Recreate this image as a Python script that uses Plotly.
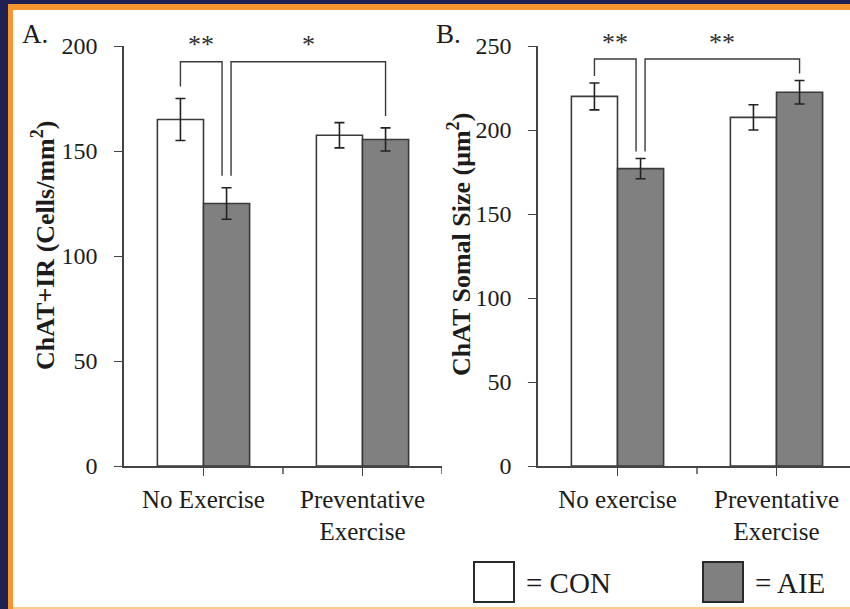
import plotly.graph_objects as go

W, H = 850, 609

# ---------------- data ----------------
cats_a = ["No Exercise", "Preventative<br>Exercise"]
con_a = [165, 157.5]
con_a_err = [10, 6]
aie_a = [125, 155.5]
aie_a_err = [7.5, 5.5]

cats_b = ["No exercise", "Preventative<br>Exercise"]
con_b = [220, 207.5]
con_b_err = [8, 7.5]
aie_b = [177, 222.5]
aie_b_err = [6, 7]

ticks_a = [0, 50, 100, 150, 200]
ticks_b = [0, 50, 100, 150, 200, 250]

sig_a = ["**", "*"]
sig_b = ["**", "**"]

# ---------------- style ----------------
NAVY = "#1f2153"
ORANGE = "#f7962f"
GRAY = "#808080"
EDGE = "#3a3a3a"
TXT = "#1c1c1c"
FONT = "Liberation Serif, Times New Roman, serif"


def px(x):
    return x / W


def py(y):
    return 1 - y / H


# panel geometry (pixels)
A_left, A_right, B_left = 124, 442, 538
Y_top, Y_bot = 46, 466
cat_px = (A_right - A_left) / 2.0
B_right_range = -0.5 + (W - B_left) / cat_px

fig = go.Figure()

err_style = dict(type="data", color="#222222", thickness=1.6, width=5, visible=True)

for cats, con, con_e, aie, aie_e, xa, ya in [
    (cats_a, con_a, con_a_err, aie_a, aie_a_err, "x", "y"),
    (cats_b, con_b, con_b_err, aie_b, aie_b_err, "x2", "y2"),
]:
    fig.add_trace(go.Bar(
        x=list(range(len(cats))), y=con, name="CON", xaxis=xa, yaxis=ya,
        marker=dict(color="white", line=dict(color=EDGE, width=1.6)),
        error_y=dict(array=con_e, **err_style), showlegend=False,
        offsetgroup="con",
    ))
    fig.add_trace(go.Bar(
        x=list(range(len(cats))), y=aie, name="AIE", xaxis=xa, yaxis=ya,
        marker=dict(color=GRAY, line=dict(color=EDGE, width=1.6)),
        error_y=dict(array=aie_e, **err_style), showlegend=False,
        offsetgroup="aie",
    ))

bargap = 0.42
half = (1 - bargap) / 4.0  # offset of each bar centre from category centre

axis_common = dict(
    showline=True, linecolor="#444444", linewidth=1.6, showgrid=False,
    zeroline=False, ticks="outside", tickcolor="#444444", tickwidth=1.4,
    automargin=False,
)
xfont = dict(family=FONT, size=25, color=TXT)
yfont = dict(family=FONT, size=24, color=TXT)

fig.update_layout(
    template="none",
    width=W, height=H, autosize=False,
    margin=dict(l=0, r=0, t=0, b=0, pad=0),
    paper_bgcolor=NAVY, plot_bgcolor="rgba(0,0,0,0)",
    font=dict(family=FONT, color=TXT),
    barmode="group", bargap=bargap, bargroupgap=0,
    xaxis=dict(domain=[px(A_left), px(A_right)], anchor="y",
               range=[-0.5, 1.5], tickmode="array", tickvals=[0, 1],
               ticktext=cats_a, ticklen=8, ticklabelstandoff=2,
               tickfont=xfont, **axis_common),
    yaxis=dict(domain=[py(Y_bot), py(Y_top)], anchor="x",
               range=[0, 200], tickmode="array", tickvals=ticks_a, ticklen=8,
               ticklabelstandoff=12, tickfont=yfont, **axis_common),
    xaxis2=dict(domain=[px(B_left), 1], anchor="y2",
                range=[-0.5, B_right_range], tickmode="array", tickvals=[0, 1],
                ticktext=cats_b, ticklen=8, ticklabelstandoff=2,
                tickfont=xfont, **axis_common),
    yaxis2=dict(domain=[py(Y_bot), py(Y_top)], anchor="x2",
                range=[0, 250], tickmode="array", tickvals=ticks_b, ticklen=8,
                ticklabelstandoff=12, tickfont=yfont, **axis_common),
)

# background frame
shapes = [
    dict(type="rect", xref="paper", yref="paper", x0=px(8), x1=1.01,
         y0=-0.01, y1=py(4), fillcolor=ORANGE, line=dict(width=0), layer="below"),
    dict(type="rect", xref="paper", yref="paper", x0=px(13), x1=1.01,
         y0=py(607), y1=py(10), fillcolor="white", line=dict(width=0), layer="below"),
    dict(type="rect", xref="paper", yref="paper", x0=px(13), x1=1.01,
         y0=-0.01, y1=py(607), fillcolor="#fcca8f", line=dict(width=0), layer="below"),
]

# boundary ticks on the category axes (between groups)
for xa, ya, xr in [("x", "y", [0.5, 1.5]), ("x2", "y2", [0.5])]:
    for xv in xr:
        shapes.append(dict(type="line", xref=xa, yref=ya + " domain",
                           x0=xv, x1=xv, y0=0, y1=-8 / (Y_bot - Y_top),
                           line=dict(color="#444444", width=1.4)))

annotations = []


def bracket(xa, ya, pix_per_unit, con, con_e, aie, aie_e, level, gap_px, sigs, star_px):
    inner = 4.5 / cat_px
    lc = dict(color="#3a3a3a", width=1.4)
    g = gap_px / pix_per_unit
    # bracket 1: CON vs AIE within first group
    x_l = 0 - half
    x_r = 0 + half - inner
    y_l = con[0] + con_e[0] + g
    y_r = aie[0] + aie_e[0] + g
    path1 = f"M {x_l},{y_l} L {x_l},{level} L {x_r},{level} L {x_r},{y_r}"
    # bracket 2: AIE no exercise vs AIE preventative
    x2_l = 0 + half + inner
    x2_r = 1 + half
    y2_r = aie[1] + aie_e[1] + g
    path2 = f"M {x2_l},{y_r} L {x2_l},{level} L {x2_r},{level} L {x2_r},{y2_r}"
    for p in (path1, path2):
        shapes.append(dict(type="path", path=p, xref=xa, yref=ya, line=lc))
    for xc, s in [((x_l + x_r) / 2, sigs[0]), ((x2_l + x2_r) / 2, sigs[1])]:
        annotations.append(dict(x=xc, y=py(star_px), xref=xa, yref="paper", text=s,
                                showarrow=False, yanchor="middle",
                                font=dict(family=FONT, size=26, color="#2e2e2e")))


bracket("x", "y", (Y_bot - Y_top) / 200, con_a, con_a_err, aie_a, aie_a_err,
        192.5, 12, sig_a, 44)
bracket("x2", "y2", (Y_bot - Y_top) / 250, con_b, con_b_err, aie_b, aie_b_err,
        242.3, 7, sig_b, 42)

# panel letters
annotations.append(dict(x=px(20), y=py(34), xref="paper", yref="paper", text="A.",
                        showarrow=False, xanchor="left", yanchor="middle",
                        font=dict(family=FONT, size=27, color=TXT)))
annotations.append(dict(x=px(434), y=py(34), xref="paper", yref="paper", text="B.",
                        showarrow=False, xanchor="left", yanchor="middle",
                        font=dict(family=FONT, size=27, color=TXT)))

# y-axis titles
annotations.append(dict(x=px(44), y=py(246), xref="paper", yref="paper",
                        text="<b>ChAT+IR (Cells/mm<sup>2</sup>)</b>", textangle=-90,
                        showarrow=False, xanchor="center", yanchor="middle",
                        font=dict(family=FONT, size=26, color=TXT)))
annotations.append(dict(x=px(460), y=py(244), xref="paper", yref="paper",
                        text="<b>ChAT Somal Size (μm<sup>2</sup>)</b>", textangle=-90,
                        showarrow=False, xanchor="center", yanchor="middle",
                        font=dict(family=FONT, size=26, color=TXT)))

# legend
for x0, fill, label in [(474, "white", "= CON"), (703, GRAY, "= AIE")]:
    shapes.append(dict(type="rect", xref="paper", yref="paper",
                       x0=px(x0), x1=px(x0 + 40), y0=py(602), y1=py(562),
                       fillcolor=fill, line=dict(color="#2a2a2a", width=2)))
    annotations.append(dict(x=px(x0 + 50), y=py(583), xref="paper", yref="paper",
                            text=label, showarrow=False, xanchor="left",
                            yanchor="middle",
                            font=dict(family=FONT, size=29, color=TXT)))

fig.update_layout(shapes=shapes, annotations=annotations)

fig.write_html(
    "out.html",
    config={"displayModeBar": False},
    post_script="document.body.style.margin='0';document.body.style.padding='0';"
                "document.body.style.overflow='hidden';",
)
